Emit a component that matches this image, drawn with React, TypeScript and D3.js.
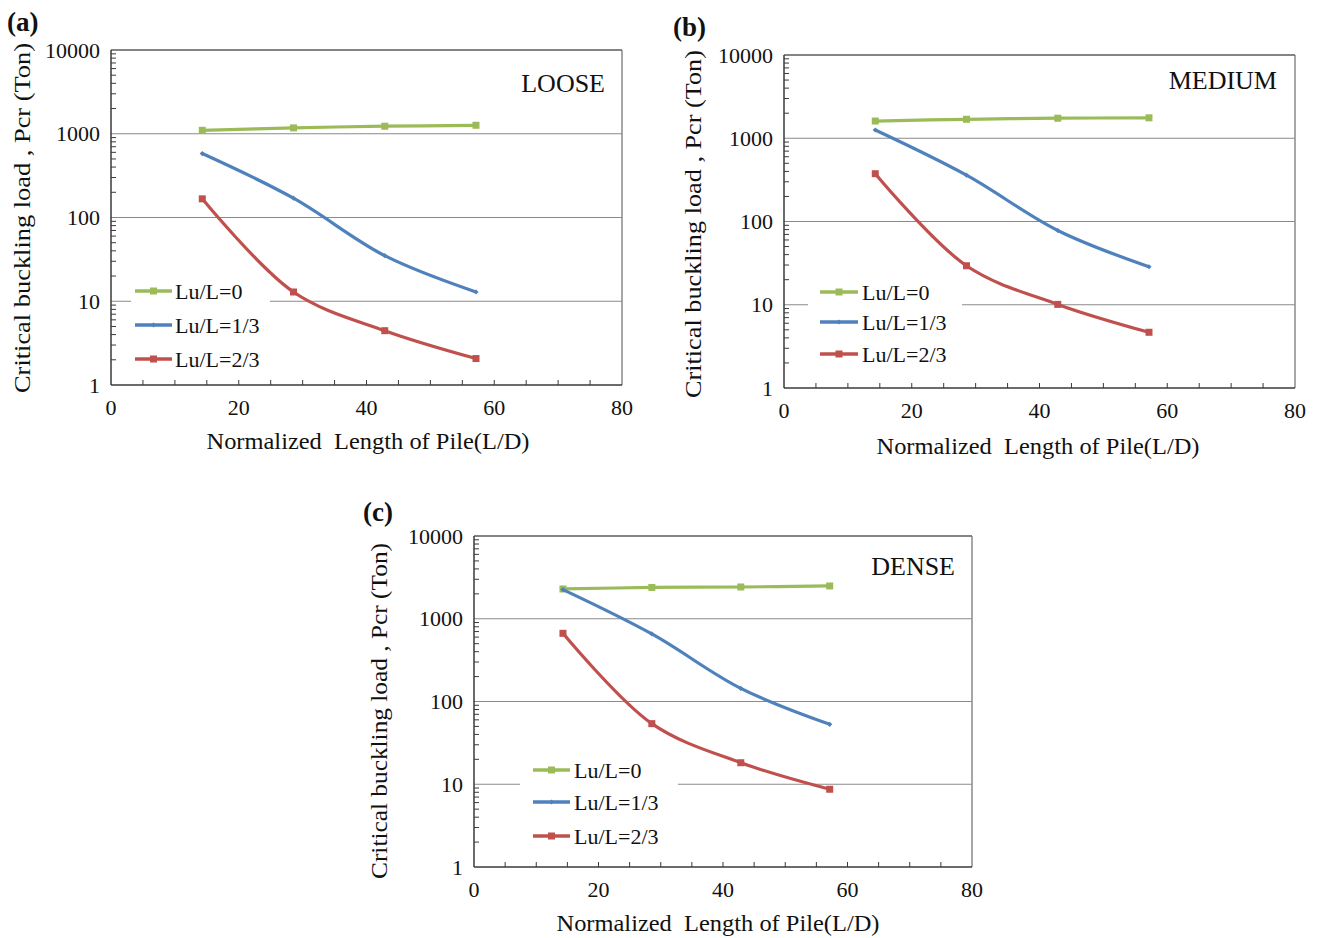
import React from 'react';
import * as d3 from 'd3';

// ---------- data ----------
const ldRatios = [14.29, 28.57, 42.86, 57.14];
const seriesLabels = ['Lu/L=0', 'Lu/L=1/3', 'Lu/L=2/3'];
const seriesColors = ['#9BBB59', '#4F81BD', '#C0504D'];
const xTickValues = [0, 20, 40, 60, 80];
const yTickValues = [1, 10, 100, 1000, 10000];

const looseLu0 = [1100, 1175, 1230, 1262];
const looseLu13 = [580, 170, 35, 12.9];
const looseLu23 = [167, 12.9, 4.45, 2.07];

const mediumLu0 = [1610, 1690, 1740, 1760];
const mediumLu13 = [1256, 360, 78, 28.6];
const mediumLu23 = [375, 29.4, 10.1, 4.67];

const denseLu0 = [2290, 2390, 2420, 2490];
const denseLu13 = [2250, 655, 144, 53];
const denseLu23 = [667, 54, 18.2, 8.7];

const panelTitles = ['LOOSE', 'MEDIUM', 'DENSE'];
const panelLetters = ['(a)', '(b)', '(c)'];
const xAxisTitle = 'Normalized  Length of Pile(L/D)';
const yAxisTitle = 'Critical buckling load , Pcr (Ton)';

// ---------- layout ----------
const layouts = [
  {
    left: 111, top: 50, right: 622, bottom: 385,
    letter: [7, 31], title: [605, 92],
    legend: { box: [131, 274, 270, 377], lineX: [135, 172], textX: 175, rows: [291, 325, 359] },
    xTitle: [368, 449], yTitle: [22, 218], yLen: 350,
  },
  {
    left: 784, top: 55, right: 1295, bottom: 388,
    letter: [673, 36], title: [1277, 89],
    legend: { box: [808, 276, 962, 370], lineX: [820, 858], textX: 862, rows: [292, 322, 354] },
    xTitle: [1038, 454], yTitle: [693, 224], yLen: 348,
  },
  {
    left: 474, top: 536, right: 972, bottom: 867,
    letter: [363, 521], title: [955, 575],
    legend: { box: [520, 754, 678, 852], lineX: [533, 570], textX: 574, rows: [770, 802, 836] },
    xTitle: [718, 931], yTitle: [379, 711], yLen: 336,
  },
];

const panelData = [
  [looseLu0, looseLu13, looseLu23],
  [mediumLu0, mediumLu13, mediumLu23],
  [denseLu0, denseLu13, denseLu23],
];

const FONT = '"Liberation Serif", "Times New Roman", serif';

function Marker({ kind, x, y, color }: { kind: number; x: number; y: number; color: string }) {
  if (kind === 1) {
    const s = 2.6;
    return <path d={`M${x},${y - s}L${x + s},${y}L${x},${y + s}L${x - s},${y}Z`} fill={color} />;
  }
  const s = 7;
  return <rect x={x - s / 2} y={y - s / 2} width={s} height={s} fill={color} />;
}

function Panel({ idx }: { idx: number }) {
  const L = layouts[idx];
  const x = d3.scaleLinear().domain([0, 80]).range([L.left, L.right]);
  const y = d3.scaleLog().domain([1, 10000]).range([L.bottom, L.top]);
  const line = d3
    .line<number>()
    .x((_, i) => x(ldRatios[i]))
    .y((d) => y(d))
    .curve(d3.curveCatmullRom.alpha(0.5));

  const minorY: number[] = [];
  for (let e = 0; e < 4; e++) for (let m = 2; m <= 9; m++) minorY.push(m * Math.pow(10, e));
  const minorX = d3.range(5, 80, 5);

  const lg = L.legend;
  return (
    <g>
      {yTickValues.slice(1).map((v) => (
        <line key={'g' + v} x1={L.left} x2={L.right} y1={y(v)} y2={y(v)} stroke="#8a8a8a" strokeWidth={1.2} />
      ))}
      <line x1={L.right} x2={L.right} y1={L.top} y2={L.bottom} stroke="#8a8a8a" strokeWidth={1.5} />
      <line x1={L.left} x2={L.right} y1={L.top} y2={L.top} stroke="#6f6f6f" strokeWidth={1.5} />
      <line x1={L.left} x2={L.left} y1={L.top} y2={L.bottom} stroke="#3a3a3a" strokeWidth={1.5} />
      <line x1={L.left} x2={L.right} y1={L.bottom} y2={L.bottom} stroke="#3a3a3a" strokeWidth={1.5} />
      {minorY.map((v) => (
        <line key={'my' + v} x1={L.left} x2={L.left + 5} y1={y(v)} y2={y(v)} stroke="#3a3a3a" strokeWidth={1} />
      ))}
      {minorX.map((v) => (
        <line key={'mx' + v} x1={x(v)} x2={x(v)} y1={L.bottom} y2={L.bottom - 5} stroke="#3a3a3a" strokeWidth={1} />
      ))}
      {yTickValues.map((v) => (
        <text key={'yt' + v} x={L.left - 11} y={y(v)} dy="0.35em" textAnchor="end" fontSize={22} fontFamily={FONT} fill="#111">
          {v}
        </text>
      ))}
      {xTickValues.map((v) => (
        <text key={'xt' + v} x={x(v)} y={L.bottom + 30} textAnchor="middle" fontSize={22} fontFamily={FONT} fill="#111">
          {v}
        </text>
      ))}
      {panelData[idx].map((vals, s) => (
        <g key={'s' + s}>
          <path d={line(vals) || ''} fill="none" stroke={seriesColors[s]} strokeWidth={3.2} />
          {vals.map((v, i) => (
            <Marker key={i} kind={s} x={x(ldRatios[i])} y={y(v)} color={seriesColors[s]} />
          ))}
        </g>
      ))}
      <rect x={lg.box[0]} y={lg.box[1]} width={lg.box[2] - lg.box[0]} height={lg.box[3] - lg.box[1]} fill="#fff" />
      {seriesLabels.map((name, s) => (
        <g key={'l' + s}>
          <line x1={lg.lineX[0]} x2={lg.lineX[1]} y1={lg.rows[s]} y2={lg.rows[s]} stroke={seriesColors[s]} strokeWidth={3.5} />
          <Marker kind={s} x={(lg.lineX[0] + lg.lineX[1]) / 2} y={lg.rows[s]} color={seriesColors[s]} />
          <text x={lg.textX} y={lg.rows[s]} dy="0.35em" fontSize={22} fontFamily={FONT} fill="#111">
            {name}
          </text>
        </g>
      ))}
      <text x={L.title[0]} y={L.title[1]} textAnchor="end" fontSize={26} fontFamily={FONT} fill="#111">
        {panelTitles[idx]}
      </text>
      <text x={L.letter[0]} y={L.letter[1]} fontSize={27} fontWeight="bold" fontFamily={FONT} fill="#111">
        {panelLetters[idx]}
      </text>
      <text
        x={L.xTitle[0]}
        y={L.xTitle[1]}
        textAnchor="middle"
        fontSize={23}
        fontFamily={FONT}
        fill="#111"
        style={{ whiteSpace: 'pre' }}
        textLength={323}
        lengthAdjust="spacingAndGlyphs"
      >
        {xAxisTitle}
      </text>
      <text
        transform={`translate(${L.yTitle[0]},${L.yTitle[1]}) rotate(-90)`}
        textAnchor="middle"
        dy="0.35em"
        fontSize={23}
        fontFamily={FONT}
        fill="#111"
        textLength={L.yLen}
        lengthAdjust="spacingAndGlyphs"
      >
        {yAxisTitle}
      </text>
    </g>
  );
}

export default function App() {
  return (
    <svg width={1320} height={938} style={{ position: 'absolute', left: 0, top: 0, background: '#fff' }}>
      <rect width={1320} height={938} fill="#fff" />
      {[0, 1, 2].map((i) => (
        <Panel key={i} idx={i} />
      ))}
    </svg>
  );
}
